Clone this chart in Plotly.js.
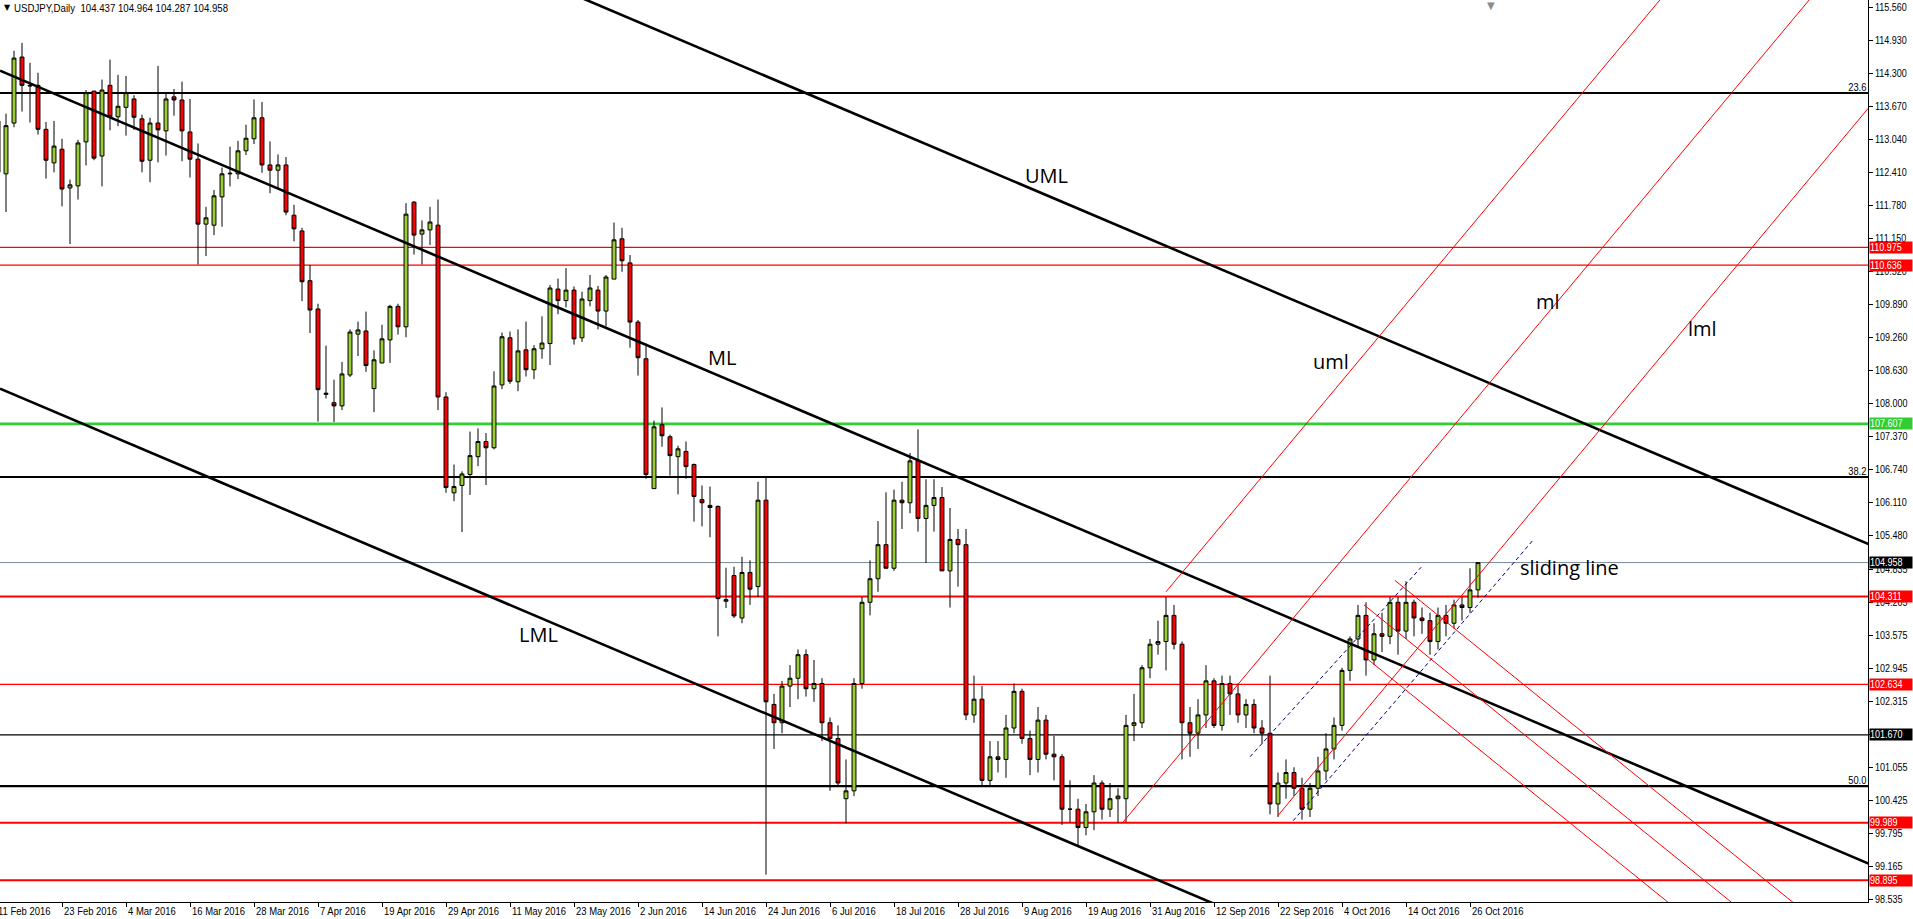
<!DOCTYPE html>
<html><head><meta charset="utf-8">
<script src="https://cdn.plot.ly/plotly-3.0.1.min.js"></script>
<style>html,body{margin:0;padding:0;background:#fff;overflow:hidden}#chart{width:1913px;height:919px}</style>
</head><body><div id="chart"></div>
<script>
// ---- data ----
const firstDay = '2016-02-11', lastDay = '2016-10-27';
const openP = [112.41,
112.38,113.35,114.61,114.07,114.07,113.23,112.59,112.85,112.11,112.15,
112.99,113.96,112.72,114.07,113.47,113.65,113.81,113.43,112.64,113.35,
113.20,113.85,113.79,113.18,112.66,111.42,111.40,111.94,112.38,112.38,
112.82,113.05,113.45,112.55,112.45,112.55,111.59,111.29,110.34,109.80,
108.17,108.01,107.95,108.54,109.32,109.38,108.28,108.77,109.21,109.85,
109.46,111.84,111.23,111.31,111.40,108.12,106.29,106.43,106.64,106.98,
107.27,107.15,108.35,109.25,108.41,109.02,108.64,109.04,109.14,110.18,
109.96,110.16,109.25,109.96,110.16,109.76,110.37,111.14,110.68,109.55,
108.85,106.37,107.59,107.36,106.98,107.08,106.83,106.16,106.05,106.03,
104.22,104.71,103.90,104.77,104.50,106.15,102.25,101.90,102.60,102.75,
103.20,102.55,102.65,101.90,101.60,100.45,100.60,102.65,104.20,104.65,
105.30,104.85,106.15,106.10,106.90,105.80,106.05,106.20,104.80,105.40,
105.30,102.05,102.35,100.80,101.25,101.20,101.80,102.50,101.60,101.20,
101.95,101.30,101.25,100.25,100.25,99.90,100.20,100.75,100.25,100.45,
100.45,101.85,101.90,102.95,103.40,103.45,103.95,103.40,101.90,101.70,
102.05,102.70,101.85,102.65,102.45,102.05,102.25,101.80,101.70,100.35,
100.75,100.95,100.65,100.25,100.65,100.98,101.40,101.85,102.90,103.50,
103.95,103.10,103.60,103.55,104.20,103.65,104.20,103.90,103.85,103.45,
103.95,103.80,104.15,104.10,104.437];
const highP = [113.50,
113.53,114.73,114.88,114.50,114.31,113.37,113.39,113.05,112.27,113.03,
113.98,113.96,114.18,114.56,114.27,114.25,113.88,113.51,113.45,114.44,
113.91,114.00,114.14,113.81,112.96,111.75,112.07,112.50,112.90,113.01,
113.32,113.80,113.75,113.00,112.75,112.70,111.79,111.35,110.64,109.90,
109.10,108.45,108.79,109.41,109.56,109.75,109.01,109.50,109.88,109.90,
111.82,111.86,111.49,111.75,111.89,108.21,106.83,106.70,107.46,107.52,
107.43,108.61,109.35,109.37,109.41,109.56,109.11,109.66,110.26,110.38,
110.58,110.23,110.13,110.45,110.24,110.45,111.45,111.35,110.83,109.59,
109.14,107.67,107.92,107.40,107.19,107.27,106.85,106.43,106.41,106.05,
104.86,104.88,105.07,105.00,106.50,106.60,102.45,102.70,103.00,103.30,
103.30,103.10,102.75,102.00,101.85,101.20,102.75,104.30,105.00,105.75,
106.30,106.35,106.50,107.05,107.50,106.55,106.55,106.40,106.00,105.60,
105.60,102.80,102.60,101.55,101.55,102.05,102.65,102.55,101.75,102.20,
102.05,101.65,101.30,100.80,100.45,100.35,100.90,100.80,100.75,100.65,
102.05,102.45,103.00,103.50,103.85,104.30,104.15,103.45,102.20,102.35,
103.00,102.75,102.80,102.80,102.65,102.35,102.35,101.95,102.80,100.95,
101.20,101.05,100.85,100.75,101.25,101.70,102.00,102.95,103.55,104.15,
104.20,103.80,104.00,104.30,104.30,104.60,104.25,104.10,104.00,104.10,
104.15,104.25,104.30,104.85,104.964];
const lowP = [112.30,
111.65,113.27,113.57,113.36,113.13,112.29,112.41,111.76,111.04,111.89,
112.54,112.64,112.14,113.21,113.29,113.11,113.22,112.41,112.22,112.60,
112.73,113.49,112.62,112.31,110.65,110.81,111.21,111.37,112.14,112.28,
112.74,112.95,112.40,112.01,112.11,111.59,111.09,109.95,109.34,107.65,
108.09,107.64,107.87,108.50,108.90,108.60,107.83,108.76,108.77,109.31,
109.26,110.84,110.65,111.02,107.87,106.29,106.13,105.54,106.25,106.80,
106.44,107.12,108.27,108.37,108.23,108.51,108.46,108.85,108.73,109.70,
109.83,109.12,109.17,109.85,109.41,109.47,110.37,110.51,109.06,108.53,
106.56,106.37,107.17,106.62,106.26,106.56,105.74,105.65,105.44,103.55,
104.09,103.90,103.80,104.15,104.30,99.00,101.40,101.70,102.20,102.35,
102.40,102.30,101.55,100.60,100.70,99.98,100.50,102.55,103.95,104.40,
104.85,104.80,105.60,105.90,105.55,104.95,105.55,104.80,104.10,104.50,
101.95,101.90,100.70,100.70,100.95,100.85,101.70,101.50,100.90,100.95,
101.20,100.80,99.95,100.00,99.55,99.75,99.85,100.05,100.10,99.99,
100.00,101.55,101.80,102.75,103.20,102.90,103.30,101.20,101.25,101.40,
101.80,101.80,101.75,102.05,101.90,101.80,101.70,101.50,100.15,100.10,
100.45,100.50,100.05,100.10,100.50,100.80,101.20,101.75,102.70,103.35,
102.80,103.00,103.25,103.40,103.20,103.50,103.55,103.60,103.20,103.30,
103.55,103.70,103.85,104.00,104.287];
const closeP = [113.39,
113.30,114.59,114.07,114.06,113.23,112.64,112.91,112.09,112.17,112.97,
113.93,112.68,113.98,113.47,113.67,113.93,113.46,112.62,113.35,113.22,
113.81,113.79,113.20,112.66,111.42,111.54,111.96,112.38,112.39,112.82,
113.06,113.45,112.55,112.45,112.55,111.65,111.33,110.32,109.78,108.26,
108.19,107.95,108.56,109.36,109.40,108.72,108.83,109.23,109.85,109.46,
111.61,111.21,111.31,111.46,108.12,106.39,106.41,106.65,107.00,107.27,
107.15,108.33,109.27,108.42,109.00,108.64,109.04,109.15,110.20,109.96,
110.16,109.23,109.99,110.20,109.76,110.41,111.12,110.72,109.55,108.87,
106.64,107.55,107.38,107.00,107.13,106.79,106.22,106.10,106.01,104.27,
104.25,103.94,104.77,104.45,106.15,102.30,101.90,102.60,102.75,103.20,
102.55,102.65,101.90,101.60,100.75,100.60,102.65,104.20,104.65,105.30,
104.85,106.15,106.10,106.90,105.80,106.05,106.20,104.80,105.40,105.30,
102.05,102.35,100.80,101.25,101.20,101.80,102.50,101.60,101.20,101.95,
101.30,101.25,100.25,100.25,99.90,100.20,100.75,100.25,100.45,100.50,
101.85,101.90,102.95,103.40,103.45,103.95,103.40,101.90,101.70,102.05,
102.70,101.85,102.65,102.45,102.05,102.25,101.80,101.70,100.35,100.75,
100.95,100.65,100.25,100.65,100.98,101.40,101.85,102.90,103.50,103.95,
103.10,103.60,103.55,104.20,103.65,104.20,103.90,103.85,103.45,103.95,
103.80,104.15,104.10,104.437,104.958];

const xTickLabels = ['23 Feb 2016','4 Mar 2016','16 Mar 2016','28 Mar 2016','7 Apr 2016','19 Apr 2016','29 Apr 2016','11 May 2016','23 May 2016','2 Jun 2016','14 Jun 2016','24 Jun 2016','6 Jul 2016','18 Jul 2016','28 Jul 2016','9 Aug 2016','19 Aug 2016','31 Aug 2016','12 Sep 2016','22 Sep 2016','4 Oct 2016','14 Oct 2016','26 Oct 2016'];
const yTickLabels = ['115.560','114.930','114.300','113.670','113.040','112.410','111.780','111.150','110.520','109.890','109.260','108.630','108.000','107.370','106.740','106.110','105.480','104.835','104.205','103.575','102.945','102.315','101.685','101.055','100.425','99.795','99.165','98.535'];

// horizontal levels
const fibLevels = [113.923, 106.592, 100.692];
const fibLabels = ['23.6','38.2','50.0'];
const redLevelsThin = [110.975, 110.636, 102.634];
const redLevelsThick = [104.311, 99.989, 98.895];
const greenLevels = [107.607];
const blackThinLevels = [101.670];
const bidLevel = [104.958];
const boxedLevels = [110.975, 110.636, 107.607, 104.958, 104.311, 102.634, 101.670, 99.989, 98.895];

// trend-line anchors: [barIndex, price] pairs (start, end)
const blackFork = {UML:[[0.25,120.45],[234,105.30]], ML:[[0.25,114.35],[234,99.20]], LML:[[0.25,108.28],[234,93.13]]};
const redFork = {uml:[[146,104.40],[215,117.03]], ml:[[140.5,99.98],[240,118.19]], lml:[[160,100.13],[240,114.77]]};
const redReaction = [[[174.6,104.62],[240,96.54]], [[170.75,104.15],[240,95.59]], [[171,103.14],[240,94.61]]];
const slidingLines = [[[161.9,100.03],[191.9,105.39]], [[156.5,101.25],[177.9,104.87]]];
const header = 'USDJPY,Daily  104.437 104.964 104.287 104.958';

// ---- build ----
const MON = ['Jan','Feb','Mar','Apr','May','Jun','Jul','Aug','Sep','Oct','Nov','Dec'];
const dates = [];
for (let d = new Date(firstDay+'T00:00:00Z'); d <= new Date(lastDay+'T00:00:00Z'); d.setUTCDate(d.getUTCDate()+1)) {
  const w = d.getUTCDay(); if (w===0||w===6) continue;
  dates.push(new Date(d.getTime()));
}
const fmt = d => d.getUTCDate()+' '+MON[d.getUTCMonth()]+' '+d.getUTCFullYear();
const idx = dates.map((d,i)=>i);
const tickvals = xTickLabels.map(l => dates.findIndex(d => fmt(d)===l));

const FONT = '"Liberation Sans",Arial,sans-serif';
const traces = [];
function seg(pair, color, width, dash) {
  traces.push({type:'scatter', mode:'lines', x:[pair[0][0],pair[1][0]], y:[pair[0][1],pair[1][1]],
    line:{color, width, dash: dash||'solid'}, hoverinfo:'skip', showlegend:false});
}
Object.values(blackFork).forEach(p => seg(p,'#000',2.6));
Object.values(redFork).forEach(p => seg(p,'#ff0000',1));
redReaction.forEach(p => seg(p,'#ff0000',1));
slidingLines.forEach(p => seg(p,'#000080',1,'4px,3px'));

traces.push({type:'candlestick', x: idx, open: openP, high: highP, low: lowP, close: closeP,
  increasing:{line:{color:'#000',width:1}, fillcolor:'#9acd32'},
  decreasing:{line:{color:'#000',width:1}, fillcolor:'#ff0000'},
  whiskerwidth:0, hoverinfo:'skip', showlegend:false});

const shapes = [];
function hline(v,color,width){ shapes.push({type:'line', xref:'paper', x0:0, x1:1, yref:'y', y0:v, y1:v, line:{color,width}, layer:'below'}); }
fibLevels.forEach(v=>hline(v,'#000',2.2));
redLevelsThin.forEach(v=>hline(v,'#ff0000',1.2));
redLevelsThick.forEach(v=>hline(v,'#ff0000',2));
greenLevels.forEach(v=>hline(v,'#32cd32',2.6));
blackThinLevels.forEach(v=>hline(v,'#000',1.2));
bidLevel.forEach(v=>hline(v,'#778899',1));

const boxColor = v => greenLevels.includes(v) ? '#32cd32' : (blackThinLevels.includes(v)||bidLevel.includes(v)) ? '#000' : '#ff0000';
const annotations = [];
const squeezeGroups = []; // [annotationIndex, factor]
function addAnn(a, f){ if (f) squeezeGroups.push([annotations.length, f]); annotations.push(a); }

boxedLevels.forEach(v => addAnn({xref:'paper', x:1, xanchor:'left', xshift:1, yref:'y', y:v, yanchor:'middle',
  text: v.toFixed(3), showarrow:false, bgcolor: boxColor(v), font:{family:FONT, size:10, color:'#fff'},
  width:42, height:11, align:'left', borderpad:0}, 0.9));
fibLevels.forEach((v,i)=> addAnn({xref:'paper', x:1, xanchor:'right', xshift:-1, yref:'y', y:v, yanchor:'bottom',
  text: fibLabels[i], showarrow:false, align:'right', font:{family:FONT, size:11, color:'#000'}, borderpad:0, yshift:-1}, 0.85));

// x-axis date labels, left-aligned at their tick like the terminal draws them
tickvals.forEach((v,i) => addAnn({xref:'x', x:v, yref:'paper', y:0, xanchor:'left', yanchor:'top', xshift:1, yshift:-2,
  text:xTickLabels[i], showarrow:false, align:'left', font:{family:FONT, size:11, color:'#000'}, borderpad:0}, 0.86));
addAnn({xref:'paper', yref:'paper', x:0, y:0, xanchor:'left', yanchor:'top', xshift:-3, yshift:-2, text:fmt(dates[0]), showarrow:false,
  align:'left', font:{family:FONT, size:11, color:'#000'}, borderpad:0}, 0.86);

const textLabels = [
  {t:'UML', x:131.1, y:112.34, a:'center'}, {t:'ML', x:90.5, y:108.88, a:'center'}, {t:'LML', x:67.6, y:103.59, a:'center'},
  {t:'uml', x:166.6, y:108.79, a:'center'}, {t:'ml', x:193.75, y:109.95, a:'center'}, {t:'lml', x:213.1, y:109.42, a:'center'},
  {t:'sliding line', x:190, y:104.87, a:'left'}];
textLabels.forEach(l => addAnn({x:l.x, y:l.y, xref:'x', yref:'y', xanchor:l.a, yanchor:'middle', text:l.t, showarrow:false,
  font:{family:'"Open Sans","Noto Sans",sans-serif', size:20, color:'#000'}}));

addAnn({xref:'paper', yref:'paper', x:0, y:1, xanchor:'left', yanchor:'top', xshift:2, yshift:-1, text:'\u25BC', showarrow:false,
  font:{family:'DejaVu Sans', size:8, color:'#000'}});
addAnn({xref:'paper', yref:'paper', x:0, y:1, xanchor:'left', yanchor:'top', xshift:12, yshift:0, text:header.replace(/  /g,'&nbsp;&nbsp;'), showarrow:false,
  align:'left', font:{family:FONT, size:11.5, color:'#000'}}, 0.84);
addAnn({xref:'paper', yref:'paper', x:1491/1868, y:1, xanchor:'center', yanchor:'top', yshift:2, text:'\u25BC', showarrow:false,
  font:{family:'DejaVu Sans', size:10, color:'#8c8c8c'}});

const yTickVals = yTickLabels.map(Number);
const layout = {
  width:1913, height:919, margin:{l:0, r:45, t:0, b:17, pad:0},
  paper_bgcolor:'#fff', plot_bgcolor:'#fff', hovermode:false, showlegend:false,
  xaxis:{range:[0.25,233.75], showgrid:false, zeroline:false, showline:true, linecolor:'#000', linewidth:1,
    ticks:'outside', ticklen:4, tickcolor:'#000', tickvals, ticktext:xTickLabels, showticklabels:false,
    rangeslider:{visible:false}, fixedrange:true, automargin:false},
  yaxis:{range:[98.478,115.699], side:'right', showgrid:false, zeroline:false, showline:true, linecolor:'#000', linewidth:1,
    ticks:'outside', ticklen:4, tickcolor:'#000', tickvals:yTickVals, ticktext:yTickLabels,
    tickfont:{family:FONT, size:10, color:'#000'}, fixedrange:true, automargin:false},
  shapes, annotations
};

// narrow the terminal-style small texts horizontally (no condensed font is installed)
function squeeze(el, f){
  const w = el.getComputedTextLength();
  if (w > 0) { el.setAttribute('textLength', (w*f).toFixed(2)); el.setAttribute('lengthAdjust','spacingAndGlyphs'); }
}
Plotly.newPlot('chart', traces, layout, {staticPlot:true, displayModeBar:false}).then(gd => {
  gd.querySelectorAll('g.ytick text').forEach(t => squeeze(t, 0.9));
  squeezeGroups.forEach(([i,f]) => {
    const t = gd.querySelector('g.annotation[data-index="'+i+'"] text.annotation-text');
    if (t) squeeze(t, f);
  });
});
</script></body></html>
